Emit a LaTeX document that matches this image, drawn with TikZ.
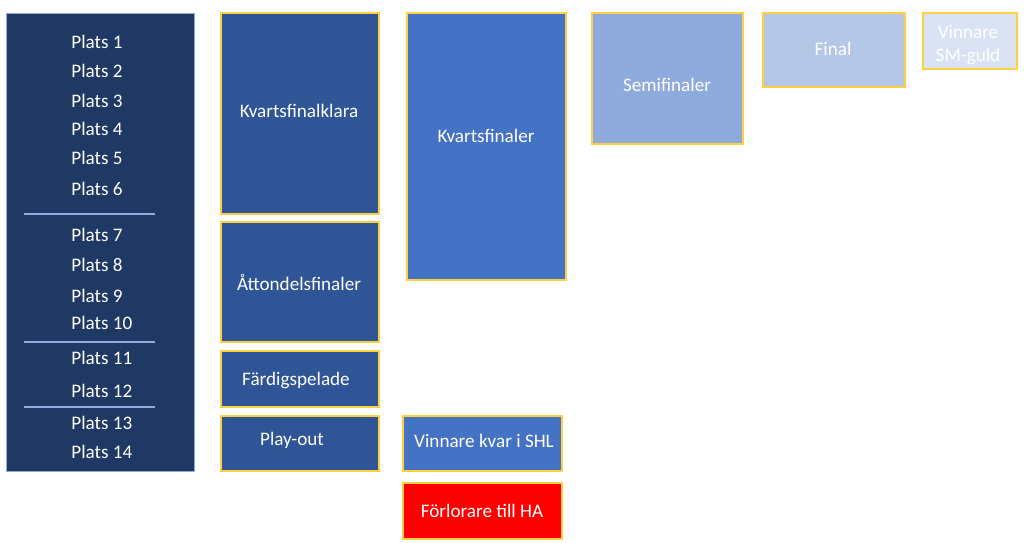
\documentclass[tikz,border=0pt]{standalone}
\usepackage{fontspec}
\setmainfont{Carlito}
\definecolor{navy}{HTML}{1F3864}
\definecolor{midblue}{HTML}{2F5597}
\definecolor{blue}{HTML}{4472C4}
\definecolor{lightblue}{HTML}{8FAADC}
\definecolor{paleblue}{HTML}{B4C7E7}
\definecolor{iceblue}{HTML}{DAE3F3}
\definecolor{gold}{HTML}{FFC000}
\begin{document}
\begin{tikzpicture}[
                x=0.02cm, y=-0.02cm,
                box/.style={draw=gold!75!white, line width=0.6pt, inner sep=0pt},
                lbl/.style={text=white, font=\fontsize{10.9}{12}\selectfont, inner sep=0pt},
                plats/.style={lbl, anchor=west},
                sep/.style={draw=lightblue, line width=0.7pt}
            ]
            \useasboundingbox (0,0) rectangle (1024,543);
            % tabellen
            \path[draw=lightblue, line width=0.4pt, fill=navy] (6,13) rectangle (194,471);
            \foreach \n/\y in {1/42,2/71,3/101,4/129,5/158,6/189,7/235,8/265,9/296,10/323,11/358,12/391,13/423,14/452}
                \node[plats] (plats\n) at (71,\y) {Plats \n};
            \foreach \y in {214,342,407}
                \path[sep] (24,\y) -- (155,\y);
            % forsta kolumnen
            \path[box, fill=midblue] (221,13) rectangle (379,214);
            \node[lbl] (kvartsklara) at (299,111) {Kvartsfinalklara};
            \path[box, fill=midblue] (221,222) rectangle (379,342);
            \node[lbl] (attondel) at (299,282) {Åttondelsfinaler};
            \path[box, fill=midblue] (221,351) rectangle (379,407);
            \node[lbl] (fardig) at (296,380) {Färdigspelade};
            \path[box, fill=midblue] (221,416) rectangle (379,471);
            \node[lbl] (playout) at (292,440) {Play-out};
            % andra kolumnen
            \path[box, fill=blue] (407,13) rectangle (566,280);
            \node[lbl] (kvarts) at (486,136) {Kvartsfinaler};
            \path[box, fill=blue] (403,416) rectangle (562,471);
            \node[lbl] (kvar) at (484,441) {Vinnare kvar i SHL};
            \path[box, fill=red] (403,483) rectangle (562,539);
            \node[lbl] (forlorare) at (482,511) {Förlorare till HA};
            % slutspelet
            \path[box, fill=lightblue] (592,13) rectangle (743,144);
            \node[lbl] (semi) at (667,85) {Semifinaler};
            \path[box, fill=paleblue] (763,13) rectangle (905,87);
            \node[lbl] (final) at (833,49) {Final};
            \path[box, fill=iceblue] (923,13) rectangle (1017,69);
            \node[lbl, align=center, font=\fontsize{10.9}{13.5}\selectfont] (guld) at (968,45) {Vinnare\\SM-guld};
        \end{tikzpicture}
\end{document}
